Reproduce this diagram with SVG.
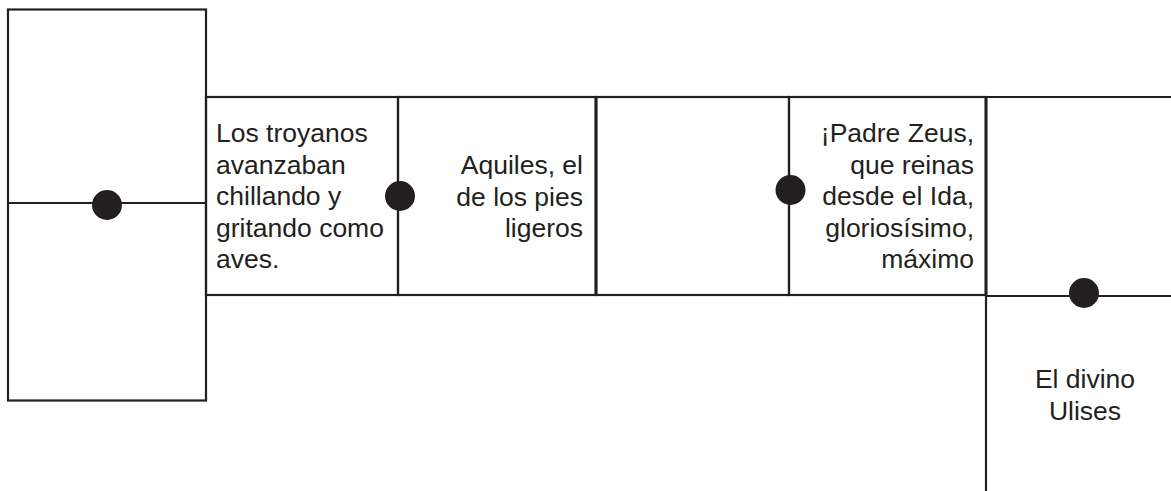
<svg xmlns="http://www.w3.org/2000/svg" width="1171" height="491" viewBox="0 0 1171 491">
<style>
.ln{fill:none;stroke:#231f20;stroke-width:2.2}
.thick{stroke-width:3}
.dot{fill:#231f20}
.t{font-family:"Liberation Sans",Arial,sans-serif;font-size:26.5px;fill:#231f20}
</style>
<rect width="1171" height="491" fill="#fff"/>
<g id="left-box">
<rect class="ln" x="8" y="9.5" width="198" height="391"/>
<line class="ln" x1="8" y1="203" x2="206" y2="203"/>
</g>
<g id="cell-troyanos">
<rect class="ln" x="206" y="97" width="192" height="198"/>
<text class="t" x="216"><tspan x="216" y="142">Los troyanos</tspan><tspan x="216" y="173.5">avanzaban</tspan><tspan x="216" y="205">chillando y</tspan><tspan x="216" y="236.5">gritando como</tspan><tspan x="216" y="268">aves.</tspan></text>
</g>
<g id="cell-aquiles">
<rect class="ln" x="398" y="97" width="198" height="198"/>
<text class="t" text-anchor="end"><tspan x="583" y="174">Aquiles, el</tspan><tspan x="583" y="205.5">de los pies</tspan><tspan x="583" y="237">ligeros</tspan></text>
</g>
<g id="cell-empty">
<rect class="ln" x="596" y="97" width="193" height="198"/>
</g>
<g id="cell-zeus">
<rect class="ln" x="789" y="97" width="197" height="198"/>
<text class="t" text-anchor="end"><tspan x="974" y="142">¡Padre Zeus,</tspan><tspan x="974" y="173.5">que reinas</tspan><tspan x="974" y="205">desde el Ida,</tspan><tspan x="974" y="236.5">gloriosísimo,</tspan><tspan x="974" y="268">máximo</tspan></text>
</g>
<g id="cell-right-top">
<polyline class="ln" points="986,97 1171,97"/>
<polyline class="ln" points="986,296 1171,296"/>
</g>
<g id="cell-ulises">
<line class="ln" x1="986" y1="296" x2="986" y2="491"/>
<text class="t" text-anchor="middle"><tspan x="1085" y="388">El divino</tspan><tspan x="1085" y="420">Ulises</tspan></text>
</g>
<g id="thick-dividers">
<line class="ln thick" x1="596" y1="96" x2="596" y2="296"/>
<line class="ln thick" x1="986" y1="96" x2="986" y2="296"/>
</g>
<g id="connectors">
<circle class="dot" cx="107" cy="205" r="15"/>
<circle class="dot" cx="400" cy="196" r="15"/>
<circle class="dot" cx="790.5" cy="190" r="15"/>
<circle class="dot" cx="1084" cy="293" r="15"/>
</g>
</svg>
